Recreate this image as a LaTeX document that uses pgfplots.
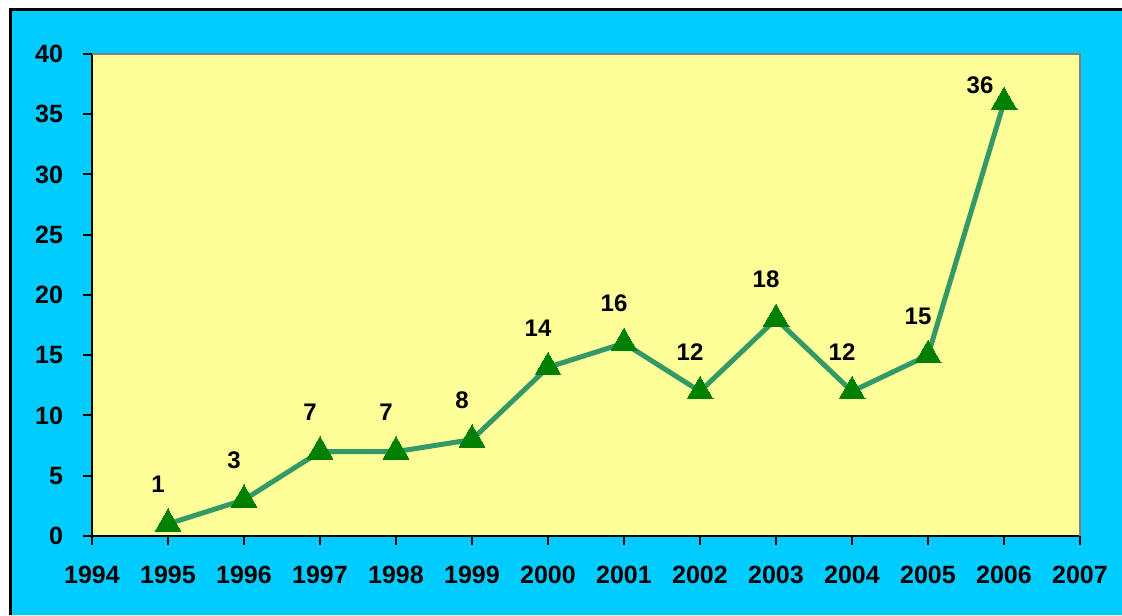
\documentclass[border=0pt]{standalone}
\usepackage{pgfplots}
\pgfplotsset{compat=1.18}
\usepackage{fontspec}
\setmainfont{Liberation Sans}
\definecolor{bgcyan}{HTML}{00CCFF}
\definecolor{plotyellow}{HTML}{FFFF99}
\definecolor{linegreen}{HTML}{339966}
\definecolor{markgreen}{HTML}{008000}
\begin{document}
\begin{tikzpicture}
\useasboundingbox (0,0) rectangle (561pt,307.5pt);
\fill[white] (0,0) rectangle (561pt,307.5pt);
\fill[bgcyan] (5.25pt,0) rectangle (561pt,302.75pt);
\draw[black,line width=1.5pt] (5.25pt,0) -- (5.25pt,302.75pt) -- (561pt,302.75pt);
\begin{axis}[
  at={(46pt,39.5pt)}, anchor=south west,
  scale only axis, width=494pt, height=241pt,
  xmin=1994, xmax=2007, ymin=0, ymax=40,
  xtick={1994,...,2007}, ytick={0,5,...,40},
  axis background/.style={fill=plotyellow},
  axis x line*=bottom, axis y line*=left,
  axis line style={black, line width=1pt},
  tick align=outside, major tick length=4.5pt,
  tick style={black, line width=1pt},
  /pgf/number format/assume math mode=true,
  tick label style={font=\bfseries\fontsize{12.5}{12.5}\selectfont},
  x tick label style={/pgf/number format/1000 sep={}, yshift=-7pt},
  y tick label style={xshift=-6.5pt},
  clip=false,
]
\draw[gray, line width=0.75pt] (rel axis cs:0,1) -- (rel axis cs:1,1) -- (rel axis cs:1,0);
\addplot[linegreen, line width=2.5pt, mark=triangle*, mark size=7.5pt,
  mark options={markgreen, solid, line width=0pt},
  point meta=explicit symbolic,
  nodes near coords,
  every node near coord/.append style={font=\bfseries\fontsize{12}{12}\selectfont, text=black, anchor=south, inner sep=0pt, yshift=15.5pt, xshift=-5pt}]
coordinates {
(1995,1) [1]
(1996,3) [3]
(1997,7) [7]
(1998,7) [7]
(1999,8) [8]
(2000,14) [14]
(2001,16) [16]
(2002,12) [12]
(2003,18) [18]
(2004,12) [12]
(2005,15) [15]
(2006,36) []
};
\addplot[draw=none, mark=none, point meta=explicit symbolic, nodes near coords,
  every node near coord/.append style={font=\bfseries\fontsize{12}{12}\selectfont, text=black, anchor=south, inner sep=0pt, yshift=4pt, xshift=-12pt}]
coordinates {(2006,36) [36]};
\end{axis}
\end{tikzpicture}
\end{document}
